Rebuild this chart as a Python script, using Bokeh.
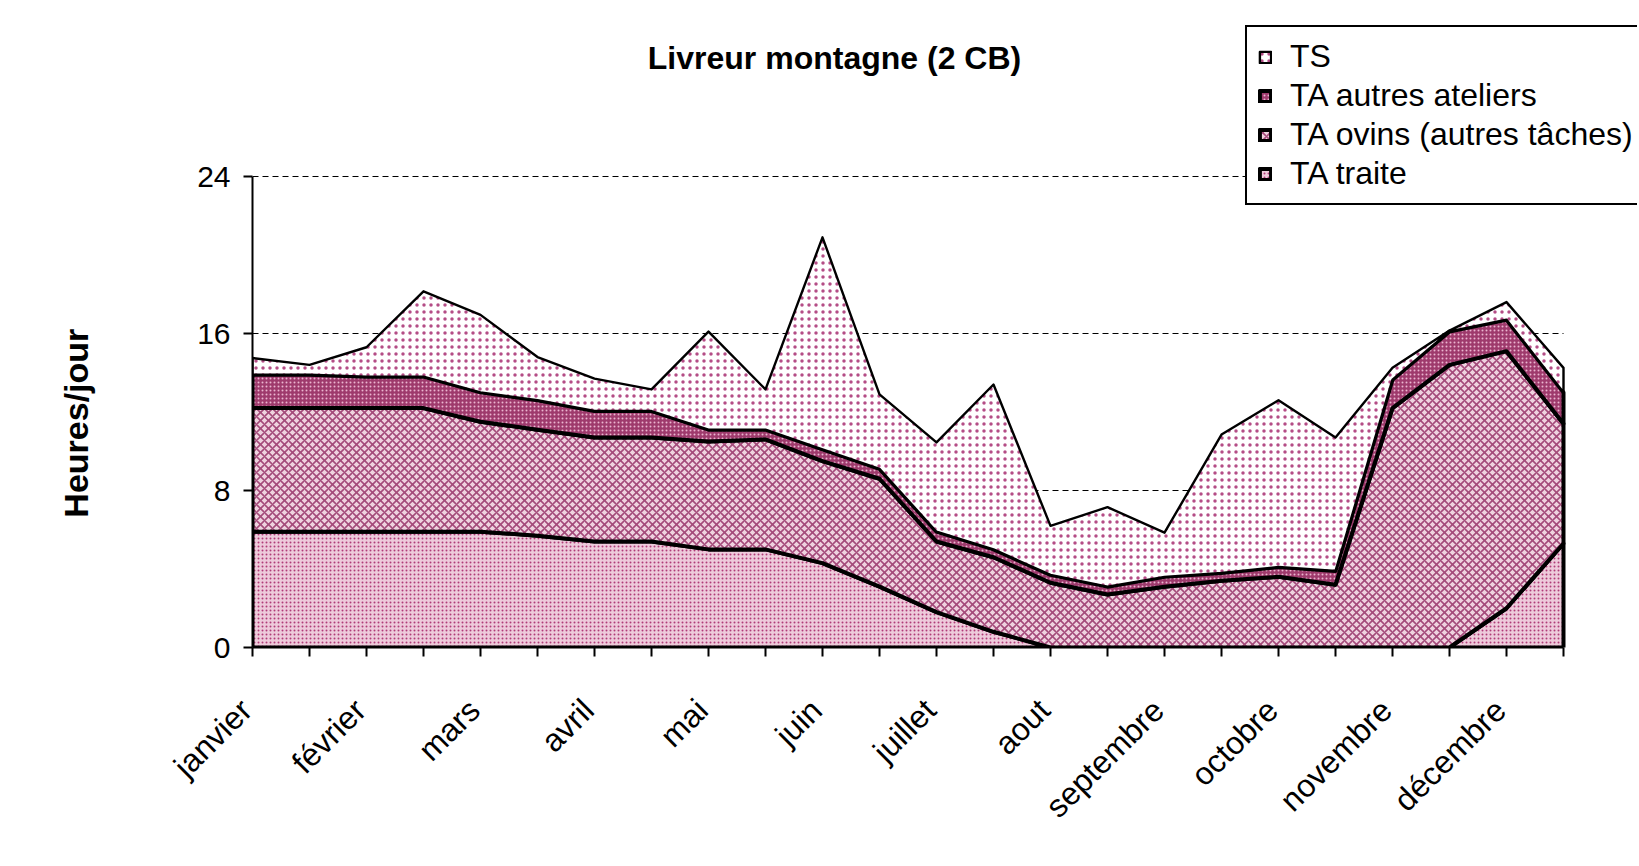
import numpy as np
from bokeh.plotting import figure
from bokeh.models import Range1d, FixedTicker, Legend, LegendItem, Label
from bokeh.embed import file_html
from bokeh.resources import INLINE

# ---------------- data (hours/day, 24 half-month periods) ----------------
months = ["janvier", "février", "mars", "avril", "mai", "juin", "juillet",
          "aout", "septembre", "octobre", "novembre", "décembre"]
periods = list(range(24))

ta_traite = [5.9, 5.9, 5.9, 5.9, 5.9, 5.7, 5.4, 5.4, 5.0, 5.0, 4.3, 3.1,
             1.8, 0.8, 0.0, 0.0, 0.0, 0.0, 0.0, 0.0, 0.0, 0.0, 2.0, 5.3]
ta_ovins = [6.3, 6.3, 6.3, 6.3, 5.6, 5.4, 5.3, 5.3, 5.5, 5.6, 5.2, 5.5,
            3.6, 3.8, 3.3, 2.7, 3.1, 3.4, 3.6, 3.2, 12.2, 14.4, 13.1, 6.1]
ta_autres = [1.7, 1.7, 1.6, 1.6, 1.5, 1.5, 1.35, 1.35, 0.6, 0.5, 0.6, 0.5,
             0.5, 0.4, 0.4, 0.4, 0.5, 0.4, 0.5, 0.7, 1.45, 1.7, 1.6, 1.6]
ts = [0.85, 0.5, 1.5, 4.35, 3.95, 2.2, 1.65, 1.1, 5.0, 2.05, 10.8, 3.8,
      4.55, 8.4, 2.5, 4.05, 2.25, 7.05, 8.5, 6.8, 0.6, 0.05, 0.9, 1.25]

series_names = ["TA traite", "TA ovins (autres tâches)", "TA autres ateliers", "TS"]
y_ticks = [0, 8, 16, 24]
title_text = "Livreur montagne (2 CB)"
y_label = "Heures/jour"

# ---------------- layout constants (pixels) ----------------
W, H = 1637, 864
PLOT_L, PLOT_R, PLOT_T, PLOT_B = 252, 1563, 176, 647   # data region 0..23 x 0..24
X_MAX, Y_MAX = periods[-1], y_ticks[-1]
px_x = (PLOT_R - PLOT_L) / X_MAX
px_y = (PLOT_B - PLOT_T) / Y_MAX
x_end = (W - PLOT_L) / px_x          # frame extends to right edge (legend space)
y_end = PLOT_B / px_y                # frame extends to top edge (title/legend space)

FONT = "Liberation Sans"
NBSP = "\u00a0"
p = figure(width=W, height=H, output_backend="svg", toolbar_location=None,
           x_range=Range1d(0, x_end), y_range=Range1d(0, y_end),
           min_border_left=PLOT_L, min_border_right=0,
           min_border_top=0, min_border_bottom=H - PLOT_B)
p.outline_line_color = None
p.background_fill_color = "white"
p.border_fill_color = "white"
p.xgrid.visible = False
p.ygrid.visible = False

# dashed horizontal gridlines, limited to the data region
gy = y_ticks[1:]
p.segment(x0=[0] * len(gy), y0=gy, x1=[X_MAX] * len(gy), y1=gy,
          line_color="black", line_width=1, line_dash="6 4", level="underlay")

# stacked areas
series = [ta_traite, ta_ovins, ta_autres, ts]
styles = [
    dict(fill_color="#eecbdb", hatch_pattern="dot", hatch_color="#b03c78",
         hatch_scale=4, hatch_weight=1.2, line_width=4),
    dict(fill_color="#efd2df", hatch_pattern="diagonal_cross", hatch_color="#a44a7a",
         hatch_scale=8, hatch_weight=1.6, line_width=4),
    dict(fill_color="#9e3a6c", hatch_pattern="dot", hatch_color="#eab5cf",
         hatch_scale=4, hatch_weight=1.2, line_width=4),
    dict(fill_color="white", hatch_pattern="dot", hatch_color="#b44d86",
         hatch_scale=7, hatch_weight=1.5, line_width=2.4),
]
bottom = np.zeros(len(periods))
renderers = []
for vals, st in zip(series, styles):
    top = bottom + np.array(vals)
    xs = periods + periods[::-1]
    ys = list(top) + list(bottom[::-1])
    r = p.patch(xs, ys, line_color="black", line_join="round", **st)
    renderers.append(r)
    bottom = top

# axes
p.xaxis.bounds = (0, X_MAX)
p.xaxis.ticker = FixedTicker(ticks=periods)
p.xaxis.major_label_overrides = {i: (months[i // 2] + NBSP if i % 2 == 0 else "") for i in periods}
p.xaxis.major_label_orientation = np.pi / 4
p.xaxis.major_label_text_font = FONT
p.xaxis.major_label_text_font_size = "32px"
p.xaxis.major_label_text_color = "black"
p.xaxis.major_label_standoff = 42
p.xaxis.minor_tick_line_color = None

p.yaxis.bounds = (0, Y_MAX)
p.yaxis.ticker = FixedTicker(ticks=y_ticks)
p.yaxis.major_label_text_font = FONT
p.yaxis.major_label_text_font_size = "30px"
p.yaxis.major_label_text_color = "black"
p.yaxis.major_label_standoff = 13
p.yaxis.minor_tick_line_color = None
# the axis label is centred on the (extended) frame; trailing no-break spaces
# move the visible words down to the middle of the data region
p.yaxis.axis_label = y_label + NBSP * 21
p.yaxis.axis_label_text_font = FONT
p.yaxis.axis_label_text_font_style = "bold"
p.yaxis.axis_label_text_font_size = "34px"
p.yaxis.axis_label_text_color = "black"
p.yaxis.axis_label_standoff = 99

for ax in (p.xaxis, p.yaxis):
    ax.axis_line_color = "black"
    ax.axis_line_width = 2
    ax.major_tick_line_color = "black"
    ax.major_tick_line_width = 2
    ax.major_tick_out = 9
    ax.major_tick_in = 0

# title (in the space above the data region)
p.add_layout(Label(x=(834 - PLOT_L) / px_x, y=(PLOT_B - 57) / px_y, text=title_text,
                   text_align="center", text_baseline="middle", text_font=FONT,
                   text_font_style="bold", text_font_size="32px", text_color="black"))

# legend
items = [LegendItem(label=series_names[i], renderers=[renderers[i]]) for i in (3, 2, 1, 0)]
legend = Legend(items=items, location=(1245 - PLOT_L, PLOT_B - 205), orientation="vertical",
                label_text_font=FONT, label_text_font_size="32px", label_text_color="black",
                glyph_width=14, glyph_height=14, label_standoff=18,
                padding=11, spacing=2, margin=0,
                border_line_color="black", border_line_width=2, border_line_alpha=1.0,
                background_fill_color="white", background_fill_alpha=1.0)
p.add_layout(legend, "center")

open("out.html", "w").write(file_html(p, INLINE))
